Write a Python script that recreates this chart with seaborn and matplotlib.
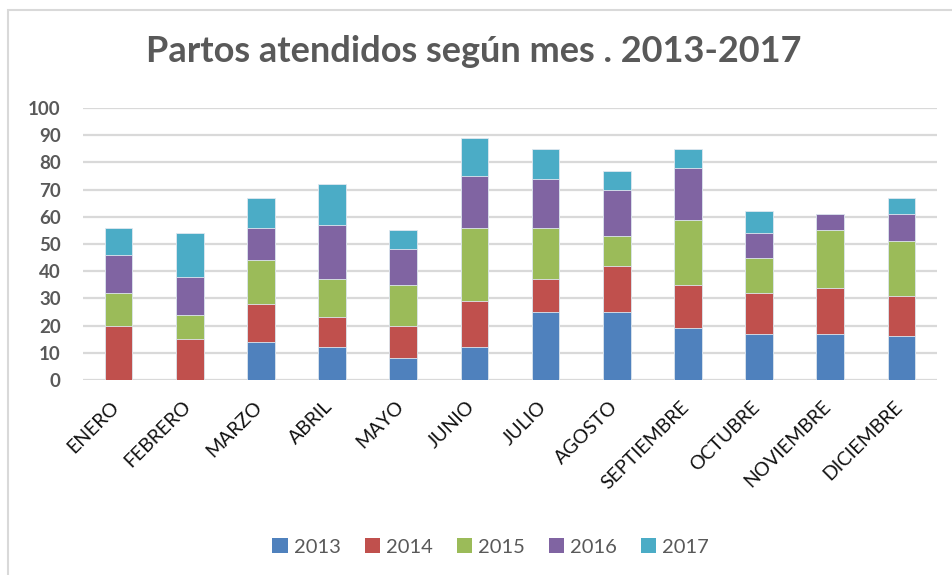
import numpy as np
import pandas as pd
import matplotlib
matplotlib.use("Agg")
import matplotlib.pyplot as plt
import matplotlib.transforms as mtransforms
from matplotlib.patches import Patch, Rectangle
import seaborn as sns

meses = ["ENERO", "FEBRERO", "MARZO", "ABRIL", "MAYO", "JUNIO", "JULIO",
         "AGOSTO", "SEPTIEMBRE", "OCTUBRE", "NOVIEMBRE", "DICIEMBRE"]
anios = ["2013", "2014", "2015", "2016", "2017"]
v2013 = [0, 0, 14, 12, 8, 12, 25, 25, 19, 17, 17, 16]
v2014 = [20, 15, 14, 11, 12, 17, 12, 17, 16, 15, 17, 15]
v2015 = [12, 9, 16, 14, 15, 27, 19, 11, 24, 13, 21, 20]
v2016 = [14, 14, 12, 20, 13, 19, 18, 17, 19, 9, 6, 10]
v2017 = [10, 16, 11, 15, 7, 14, 11, 7, 7, 8, 0, 6]
colores = ["#4F81BD", "#C0504D", "#9BBB59", "#8064A2", "#4BACC6"]

sns.set_theme(style="white")
plt.rcParams["font.family"] = ["Lato", "DejaVu Sans"]

series = [v2013, v2014, v2015, v2016, v2017]
cum = np.cumsum(np.array(series, dtype=float), axis=0)

fig = plt.figure(figsize=(9.53, 5.75), dpi=100)
ax = fig.add_axes([83/953, 1-380/575, (937-83)/953, (380-108)/575])

# draw cumulative totals from top series down so each layer shows its segment
for i in range(len(anios)-1, -1, -1):
    df = pd.DataFrame({"mes": meses, "valor": cum[i]})
    sns.barplot(data=df, x="mes", y="valor", color=colores[i], ax=ax,
                width=0.39, saturation=1, edgecolor="#dfe8f0", linewidth=0.6,
                zorder=3)

ax.set_ylim(0, 100)
ax.set_xlim(-0.5, len(meses)-0.5)
ax.set_yticks(range(0, 101, 10))
ax.yaxis.grid(True, color="#D9D9D9", linewidth=1.6, zorder=0)
ax.set_axisbelow(True)
for s in ax.spines.values():
    s.set_visible(False)
ax.set_xlabel("")
ax.set_ylabel("")
ax.tick_params(axis="y", length=0, pad=16, labelsize=13.5, labelcolor="#595959")
for lbl in ax.get_yticklabels():
    lbl.set_fontweight("bold")
ax.tick_params(axis="x", length=0, pad=10, labelsize=14, labelcolor="#111111")
ax.set_xticks(range(len(meses)))
ax.set_xticklabels(meses, rotation=45, ha="right", rotation_mode="anchor")
offset = mtransforms.ScaledTranslation(-8/100, -4/100, fig.dpi_scale_trans)
for lbl in ax.get_xticklabels():
    lbl.set_transform(lbl.get_transform() + offset)

fig.text(0.497, 1-52/575, "Partos atendidos según mes . 2013-2017",
         ha="center", va="center", fontsize=26, fontweight="bold", color="#595959")

handles = [Patch(facecolor=c, edgecolor="none") for c in colores]
fig.legend(handles, anios, loc="center", bbox_to_anchor=(0.515, 1-547/575),
           ncol=5, frameon=False, fontsize=14.5, labelcolor="#595959",
           handlelength=0.75, handleheight=0.75, handletextpad=0.3,
           columnspacing=1.2)

fig.patches.append(Rectangle((8/953, -0.05), 1.1, 1-10/575+0.05,
                             transform=fig.transFigure, fill=False,
                             edgecolor="#D9D9D9", linewidth=1.5))

fig.savefig("out.png", dpi=100)
